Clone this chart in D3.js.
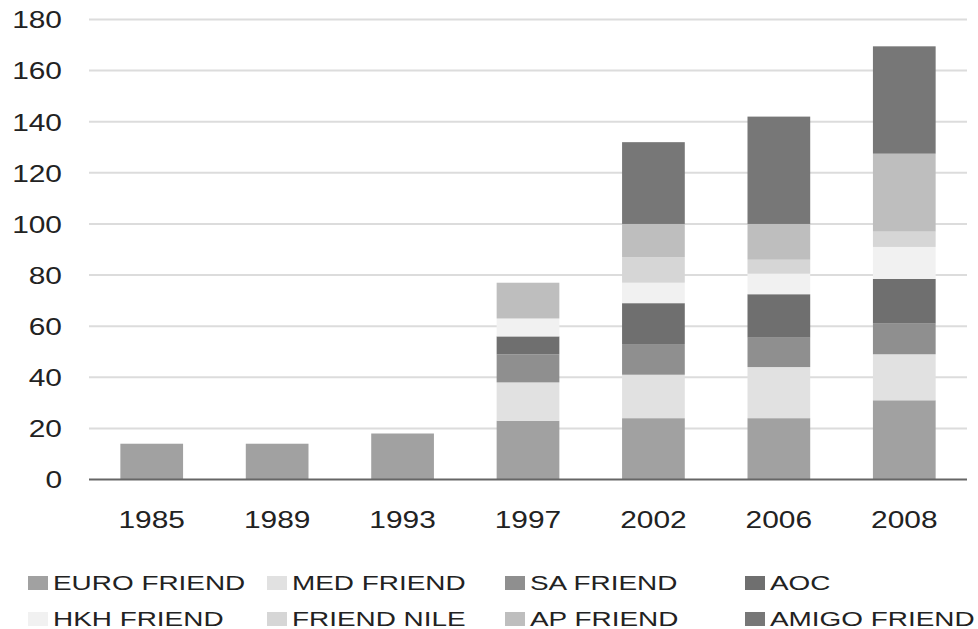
<!DOCTYPE html>
<html>
<head>
<meta charset="utf-8">
<script src="https://cdn.jsdelivr.net/npm/d3@7"></script>
<style>
  body { margin: 0; background: #fff; }
  text { font-family: "Liberation Sans", Arial, sans-serif; fill: #222; }
</style>
</head>
<body>
<div id="chart"></div>
<script>
// data
var years = ["1985", "1989", "1993", "1997", "2002", "2006", "2008"];
var seriesNames = ["EURO FRIEND", "MED FRIEND", "SA FRIEND", "AOC",
                   "HKH FRIEND", "FRIEND NILE", "AP FRIEND", "AMIGO FRIEND"];
var euroFriend  = [14, 14, 18, 23, 24, 24, 31];
var medFriend   = [0, 0, 0, 15, 17, 20, 18];
var saFriend    = [0, 0, 0, 11, 12, 11.5, 12];
var aoc         = [0, 0, 0, 7, 16, 17, 17.5];
var hkhFriend   = [0, 0, 0, 7, 8, 8, 12.5];
var friendNile  = [0, 0, 0, 0, 10, 5.5, 6];
var apFriend    = [0, 0, 0, 14, 13, 14, 30.5];
var amigoFriend = [0, 0, 0, 0, 32, 42, 42];
var yTicks = [0, 20, 40, 60, 80, 100, 120, 140, 160, 180];

var colors = ["#a1a1a1", "#e1e1e1", "#8f8f8f", "#6f6f6f",
              "#f1f1f1", "#d6d6d6", "#bebebe", "#777777"];

var allSeries = [euroFriend, medFriend, saFriend, aoc,
                 hkhFriend, friendNile, apFriend, amigoFriend];

// build rows for d3.stack
var rows = years.map(function(y, i) {
    var row = { year: y };
    seriesNames.forEach(function(name, k) { row[name] = allSeries[k][i]; });
    return row;
});

var width = 978, height = 629;
var stretch = 1.3;   // text in the picture is drawn wide

var svg = d3.select("#chart").append("svg")
    .attr("width", width)
    .attr("height", height);

var x = d3.scaleBand()
    .domain(years)
    .range([89, 967])
    .paddingInner(0.5)
    .paddingOuter(0.25);

var y = d3.scaleLinear()
    .domain([0, 180])
    .range([479.5, 19.5]);

// gridlines
svg.append("g")
    .selectAll("line")
    .data(yTicks.slice(1))
  .enter().append("line")
    .attr("x1", 89)
    .attr("x2", 967)
    .attr("y1", function(d) { return y(d); })
    .attr("y2", function(d) { return y(d); })
    .style("stroke", "#dcdcdc")
    .style("stroke-width", 2);

// y axis labels
var yAxis = d3.axisLeft(y).tickValues(yTicks).tickSize(0).tickPadding(0);
var gy = svg.append("g")
    .attr("transform", "translate(62,0)")
    .call(yAxis);
gy.select(".domain").remove();
gy.selectAll("text")
    .attr("x", 0)
    .attr("dy", "0.36em")
    .style("font-size", "23px")
    .attr("transform", "scale(" + stretch + ",1)");

// stacked bars
var stack = d3.stack().keys(seriesNames);
var layers = stack(rows);

svg.append("g")
    .selectAll("g")
    .data(layers)
  .enter().append("g")
    .style("fill", function(d, i) { return colors[i]; })
  .selectAll("rect")
    .data(function(d) { return d; })
  .enter().append("rect")
    .attr("x", function(d) { return x(d.data.year); })
    .attr("width", x.bandwidth())
    .attr("y", function(d) { return y(d[1]); })
    .attr("height", function(d) { return y(d[0]) - y(d[1]); });

// zero line
svg.append("line")
    .attr("x1", 89)
    .attr("x2", 967)
    .attr("y1", y(0))
    .attr("y2", y(0))
    .style("stroke", "#666")
    .style("stroke-width", 2);

// x axis labels, centred under the bars
var xAxis = d3.axisBottom(x).tickSize(0).tickPadding(0);
var gx = svg.append("g")
    .attr("transform", "translate(0,528)")
    .call(xAxis);
gx.select(".domain").remove();
gx.selectAll("text")
    .attr("y", 0)
    .attr("dy", 0)
    .style("font-size", "23px")
    .attr("transform", "scale(" + stretch + ",1)");

// legend, two rows of four
var colX = [28, 267, 505, 745];
var rowY = [590, 626];

var legend = svg.append("g")
    .selectAll("g")
    .data(seriesNames)
  .enter().append("g")
    .attr("transform", function(d, i) {
        return "translate(" + colX[i % 4] + "," + rowY[Math.floor(i / 4)] + ")";
    });

legend.append("rect")
    .attr("x", 0)
    .attr("y", -14)
    .attr("width", 20)
    .attr("height", 14)
    .style("fill", function(d, i) { return colors[i]; });

legend.append("text")
    .attr("transform", "translate(25,0) scale(1.33,1)")
    .style("font-size", "21px")
    .text(function(d) { return d; });
</script>
</body>
</html>
